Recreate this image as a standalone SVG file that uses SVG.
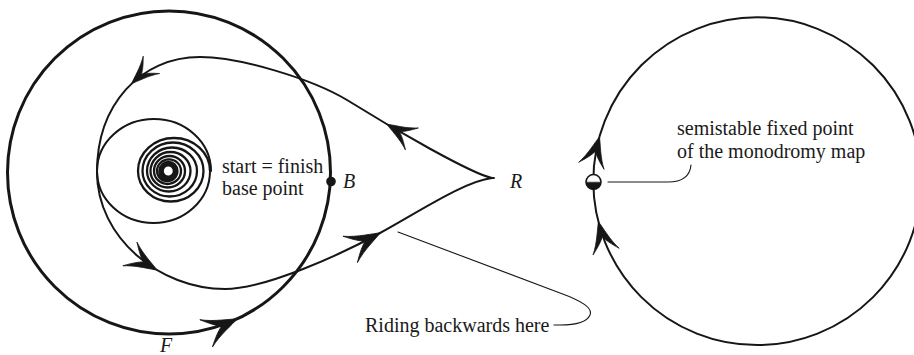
<svg xmlns="http://www.w3.org/2000/svg" width="914" height="355" viewBox="0 0 914 355">
<style>
.ln{fill:none;stroke:#161616;stroke-linecap:round;stroke-linejoin:round}
.thick{stroke-width:3}
.med{stroke-width:2}
.sp{stroke-width:2.3}
.thin{stroke-width:1.1}
text{font-family:"Liberation Serif","Times New Roman",serif;font-size:20px;fill:#1a1a1a}
.it{font-style:italic}
.ah{fill:#161616;stroke:#161616;stroke-width:0.8;stroke-linejoin:round}
</style>
<defs>
<path id="arr" d="M0,0 C-6,-3 -22,-7 -34,-15 C-27,-7.5 -22,-3 -17,0 C-22,3 -27,7.5 -34,15 C-22,7 -6,3 0,0 Z"/>
</defs>
<rect width="914" height="355" fill="#ffffff"/>

<g id="fiber-F">
<circle cx="169" cy="172.5" r="161.5" class="ln thick"/>
<use href="#arr" class="ah" transform="translate(237,319) rotate(-24.9)"/>
<text class="it" x="160" y="352">F</text>
</g>

<g id="base-point-B">
<circle cx="331" cy="181.5" r="4.8" fill="#161616"/>
<text class="it" x="343" y="188">B</text>
</g>

<g id="base-label">
<text x="222" y="172.7">start = finish</text>
<text x="222" y="195">base point</text>
</g>

<g id="point-R">
<text class="it" x="510" y="188">R</text>
</g>

<g id="monodromy-circle">
<circle cx="757.2" cy="181.2" r="163.9" class="ln med"/>
<use href="#arr" class="ah" transform="translate(599.4,137) rotate(-74.4) scale(0.88)"/>
<use href="#arr" class="ah" transform="translate(598.5,222) rotate(-104.4) scale(0.9)"/>
</g>

<g id="semistable-point">
<circle cx="593.5" cy="182" r="7.5" fill="#ffffff"/>
<path d="M586,182 A7.5,7.5 0 0 0 601,182 Z" fill="#161616"/>
<line x1="587" y1="182" x2="600" y2="182" stroke="#888" stroke-width="0.8"/>
<circle cx="593.5" cy="182" r="7.5" class="ln" stroke-width="1.6"/>
</g>

<g id="semistable-label">
<text x="677" y="135">semistable fixed point</text>
<text x="677" y="157.5">of the monodromy map</text>
</g>

<g id="riding-label">
<text x="365" y="332">Riding backwards here</text>
</g>

<g id="connectors">
<path class="ln med" d="M492,178 C472,174 395,130 347,100 C312,79 240,57 200,57 C140,57 97,105 97,172 C97,238 160,289 225,289 C265,289 340,255 380,233 C420,211 465,181 492,178 L494,178"/>
<use href="#arr" class="ah" transform="translate(387,124.3) rotate(210.5) scale(0.85)"/>
<use href="#arr" class="ah" transform="translate(131.7,83.5) rotate(136.6) scale(0.8)"/>
<use href="#arr" class="ah" transform="translate(156.8,269.9) rotate(30.7) scale(0.92)"/>
<use href="#arr" class="ah" transform="translate(380,233) rotate(-28.8)"/>
<path class="ln med" d="M211,171 A57,52 0 0 0 97,171 A56.5,52 0 0 0 210,171"/>
<path class="ln sp" d="M210,171 A36,33 0 0 0 138,171 A32.75,30.5 0 0 0 203.5,171 A30.5,28.5 0 0 0 142.5,171 A27.25,25.5 0 0 0 197,171 A25,23.5 0 0 0 147,171 A21.75,20.5 0 0 0 190.5,171 A20,19 0 0 0 150.5,171 A17.25,16.5 0 0 0 185,171 A15.5,15 0 0 0 154,171 A13.5,13 0 0 0 181,171 A12,11.7 0 0 0 157,171 A10.25,10 0 0 0 177.5,171 A9,9 0 0 0 159.5,171 A8,8 0 0 0 175.5,171 A7.2,7.2 0 0 0 161.1,171 A6.7,6.7 0 0 0 174.5,171 A6.2,6.2 0 0 0 162.1,171 A5.9,5.9 0 0 0 173.9,171 A5.6,5.6 0 0 0 162.7,171 A5.6,5.6 0 0 0 173.9,171"/>
<path class="ln thin" d="M398,232 L560,293 C582,301 593,308 590,315 C587,322 575,325 560,325 L554,325"/>
<path class="ln thin" d="M608,182 L668,182 C682,182 690,176 691,165"/>
</g>
</svg>
